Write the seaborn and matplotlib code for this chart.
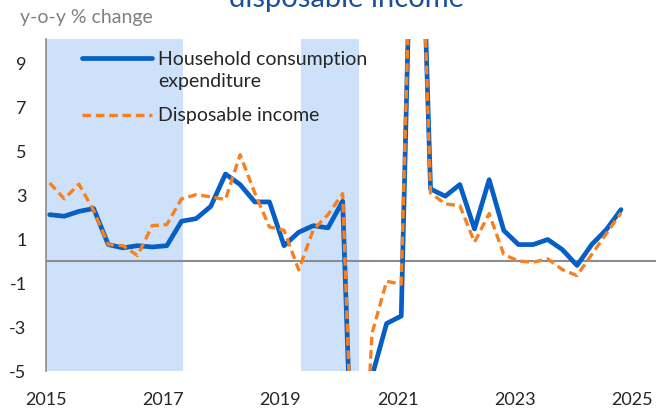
import numpy as np
import pandas as pd
import matplotlib
matplotlib.use("Agg")
import matplotlib.pyplot as plt
from matplotlib.legend_handler import HandlerLine2D
import seaborn as sns

# quarterly y-o-y % changes, 2015Q1 - 2024Q4
quarters = pd.period_range("2015Q1", "2024Q4", freq="Q")
consumption = [2.11, 2.04, 2.26, 2.39, 0.75, 0.60, 0.70, 0.64, 0.70, 1.81,
               1.93, 2.49, 3.96, 3.48, 2.69, 2.69, 0.70, 1.31, 1.61, 1.51,
               2.72, -17.0, -5.25, -2.84, -2.50, 25.0, 3.28, 2.95, 3.48, 1.46,
               3.70, 1.39, 0.75, 0.75, 0.98, 0.52, -0.20, 0.75, 1.43, 2.34]
income = [3.55, 2.83, 3.50, 2.30, 0.75, 0.70, 0.25, 1.61, 1.66, 2.83,
          3.02, 2.92, 2.80, 4.84, 3.10, 1.55, 1.40, -0.40, 1.43, 2.11,
          3.07, -16.0, -3.30, -0.92, -1.05, 24.0, 3.10, 2.60, 2.52, 0.86,
          2.16, 0.30, 0.00, -0.05, 0.10, -0.39, -0.66, 0.30, 1.25, 2.19]
shaded = [(2015.0, 2017.33), (2019.35, 2020.34)]
yticks = [-5, -3, -1, 1, 3, 5, 7, 9]
xticks = [2015, 2017, 2019, 2021, 2023, 2025]

blue = "#055FC5"
orange = "#F98020"

df = pd.DataFrame({
    "t": quarters.year + (quarters.quarter - 1) / 4 + 1 / 16,
    "consumption": consumption,
    "income": income,
})

sns.set_style("white")
plt.rcParams["font.family"] = ["Lato", "DejaVu Sans"]
plt.rcParams["axes.unicode_minus"] = False

fig = plt.figure(figsize=(6.57, 4.11), dpi=100)
ax = fig.add_axes([46 / 657, 40 / 411, 610 / 657, 332 / 411])

for a, b in shaded:
    ax.axvspan(a, b, color="#CEE1FA", lw=0, zorder=0)
ax.axhline(0, color="#8C8C8C", lw=1.5, zorder=1)

sns.lineplot(data=df, x="t", y="consumption", ax=ax, color=blue, lw=3.4,
             label="Household consumption\nexpenditure", zorder=3)
sns.lineplot(data=df, x="t", y="income", ax=ax, color=orange, lw=2.4,
             label="Disposable income", zorder=4)
ax.lines[-1].set_dashes((2.6, 1.4))

ax.set_xlim(2015, 2025.41)
ax.set_ylim(-5, 10.1)
ax.set_xticks(xticks)
ax.set_yticks(yticks)
ax.set_xlabel("")
ax.set_ylabel("")
ax.tick_params(axis="x", length=0, pad=15, labelsize=13)
ax.tick_params(axis="y", length=0, pad=14, labelsize=13)
for s in ["top", "right", "bottom"]:
    ax.spines[s].set_visible(False)
ax.spines["left"].set_color("#8C8C8C")
ax.spines["left"].set_linewidth(1.2)


fs = 14
shift = 9


def first_line(leg_line, orig):
    # put the handle beside the first line of a two-line label
    leg_line.update_from(orig)
    y = leg_line.get_ydata()
    leg_line.set_ydata(np.asarray(y) + shift)


handles, labels = ax.get_legend_handles_labels()
leg = ax.legend(handles, labels, loc="upper left", bbox_to_anchor=(0.059, 0.965),
                frameon=False, fontsize=fs, handlelength=3.6, handletextpad=0.3,
                borderpad=0, borderaxespad=0, labelspacing=0.9,
                handler_map={handles[0]: HandlerLine2D(update_func=first_line)})
for t in leg.get_texts():
    t.set_linespacing(1.38)

fig.text(20 / 657, 1 - 17 / 411, "y-o-y % change", va="center", ha="left",
         color="#808080", fontsize=14)
fig.text(347 / 657, 1 - 7 / 411, "disposable income", va="baseline", ha="center",
         color="#1B4F9C", fontsize=21)

fig.savefig("out.png", dpi=100)
